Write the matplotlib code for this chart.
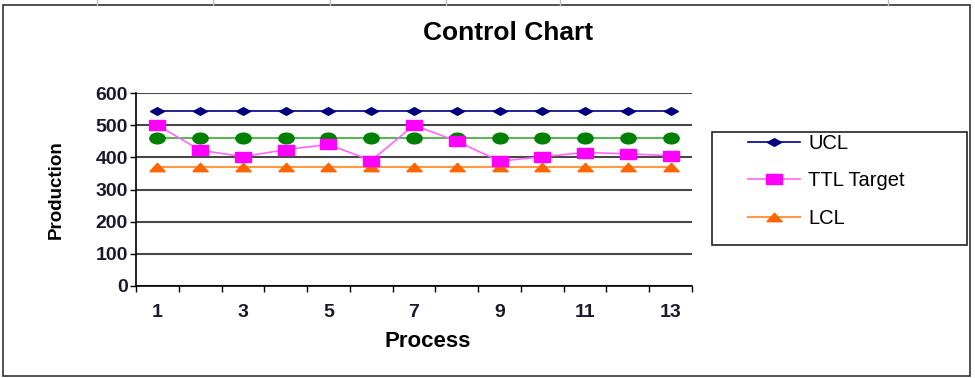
import numpy as np
import matplotlib
matplotlib.use('Agg')
from matplotlib import pyplot as plt
from matplotlib.path import Path
from matplotlib.patches import Rectangle
from matplotlib.lines import Line2D

plt.rcParams['font.family'] = ['Liberation Sans', 'DejaVu Sans']

process = np.arange(1, 14)
ucl = [545] * 13
mean_line = [460] * 13
ttl_target = [500, 422, 402, 424, 440, 390, 500, 450, 388, 402, 415, 411, 405]
lcl = [370] * 13

W, H = 975, 378

# flattened markers like the spreadsheet ones
diamond = Path([(-1, 0), (0, 0.55), (1, 0), (0, -0.55), (-1, 0)])
circ = Path.unit_circle()
ellipse = Path(circ.vertices * [1, 0.7], circ.codes)
rect = Path([(-1, -0.7), (1, -0.7), (1, 0.7), (-1, 0.7), (-1, -0.7)])
tri = Path([(-1, -0.55), (0, 0.55), (1, -0.55), (-1, -0.55)])

fig = plt.figure(figsize=(W / 100, H / 100), dpi=100)

# chart border, legend box and spreadsheet grid bits
fig.patches.append(Rectangle((3 / W, 2 / H), 967 / W, 371 / H, transform=fig.transFigure,
                             fill=False, edgecolor='#333333', lw=1.2))
fig.patches.append(Rectangle((712 / W, 1 - 245 / H), 255 / W, 113 / H, transform=fig.transFigure,
                             fill=False, edgecolor='#222222', lw=1.2))
for gx in [97, 213, 330, 446, 560, 888]:
    fig.lines.append(Line2D([gx / W, gx / W], [1 - 5 / H, 1], transform=fig.transFigure,
                            color='#c0c0c0', lw=1))

ax = fig.add_axes([136 / W, (H - 286) / H, 556 / W, 193 / H])
ax.plot(process, ucl, color='#000080', lw=1.2, marker=diamond, markersize=10,
        label='UCL', zorder=3)
ax.plot(process, mean_line, color='#33aa33', lw=1.2, marker=ellipse, markersize=11,
        markerfacecolor='#008000', markeredgecolor='#008000', label='_mean', zorder=3)
ax.plot(process, ttl_target, color='#ff66ff', lw=1.2, marker=rect, markersize=11,
        markerfacecolor='#ff00ff', markeredgecolor='#ff00ff', label='TTL Target', zorder=4)
ax.plot(process, lcl, color='#ff9944', lw=1.5, marker=tri, markersize=11,
        markerfacecolor='#ff6600', markeredgecolor='#ff6600', label='LCL', zorder=3)

ax.set_xlim(0.5, 13.5)
ax.set_ylim(0, 600)
ax.set_yticks(range(0, 601, 100))
ax.set_xticks(process[::2])
ax.set_xticks(np.arange(0.5, 14, 1), minor=True)
ax.tick_params(axis='x', which='major', length=0, pad=13, labelsize=14)
ax.tick_params(axis='x', which='minor', length=4, direction='out', width=1)
ax.tick_params(axis='y', length=4, direction='out', width=1, pad=2, labelsize=14)
for lab in ax.get_xticklabels() + ax.get_yticklabels():
    lab.set_fontweight('bold')
    lab.set_color('#1a1a2e')
ax.grid(axis='y', color='#474747', lw=1.5)
ax.set_axisbelow(True)
for s in ['top', 'right']:
    ax.spines[s].set_visible(False)
ax.spines['left'].set_linewidth(1.2)
ax.spines['bottom'].set_linewidth(1.2)

ax.set_xlabel('Process', fontsize=16, fontweight='bold')
ax.xaxis.set_label_coords(0.525, -0.235)
ax.set_ylabel('Production', fontsize=13.5, fontweight='bold')
ax.yaxis.set_label_coords(-0.128, 0.5)

fig.text(508 / W, 1 - 33 / H, 'Control Chart', ha='center', va='center',
         fontsize=19, fontweight='bold')

leg = fig.legend(loc='center left', bbox_to_anchor=(748 / W, 1 - 181 / H), fontsize=14.5,
                 frameon=False, handlelength=2.6, handletextpad=0.4, labelspacing=0.92,
                 borderpad=0, borderaxespad=0)

fig.savefig('out.png', dpi=100)
